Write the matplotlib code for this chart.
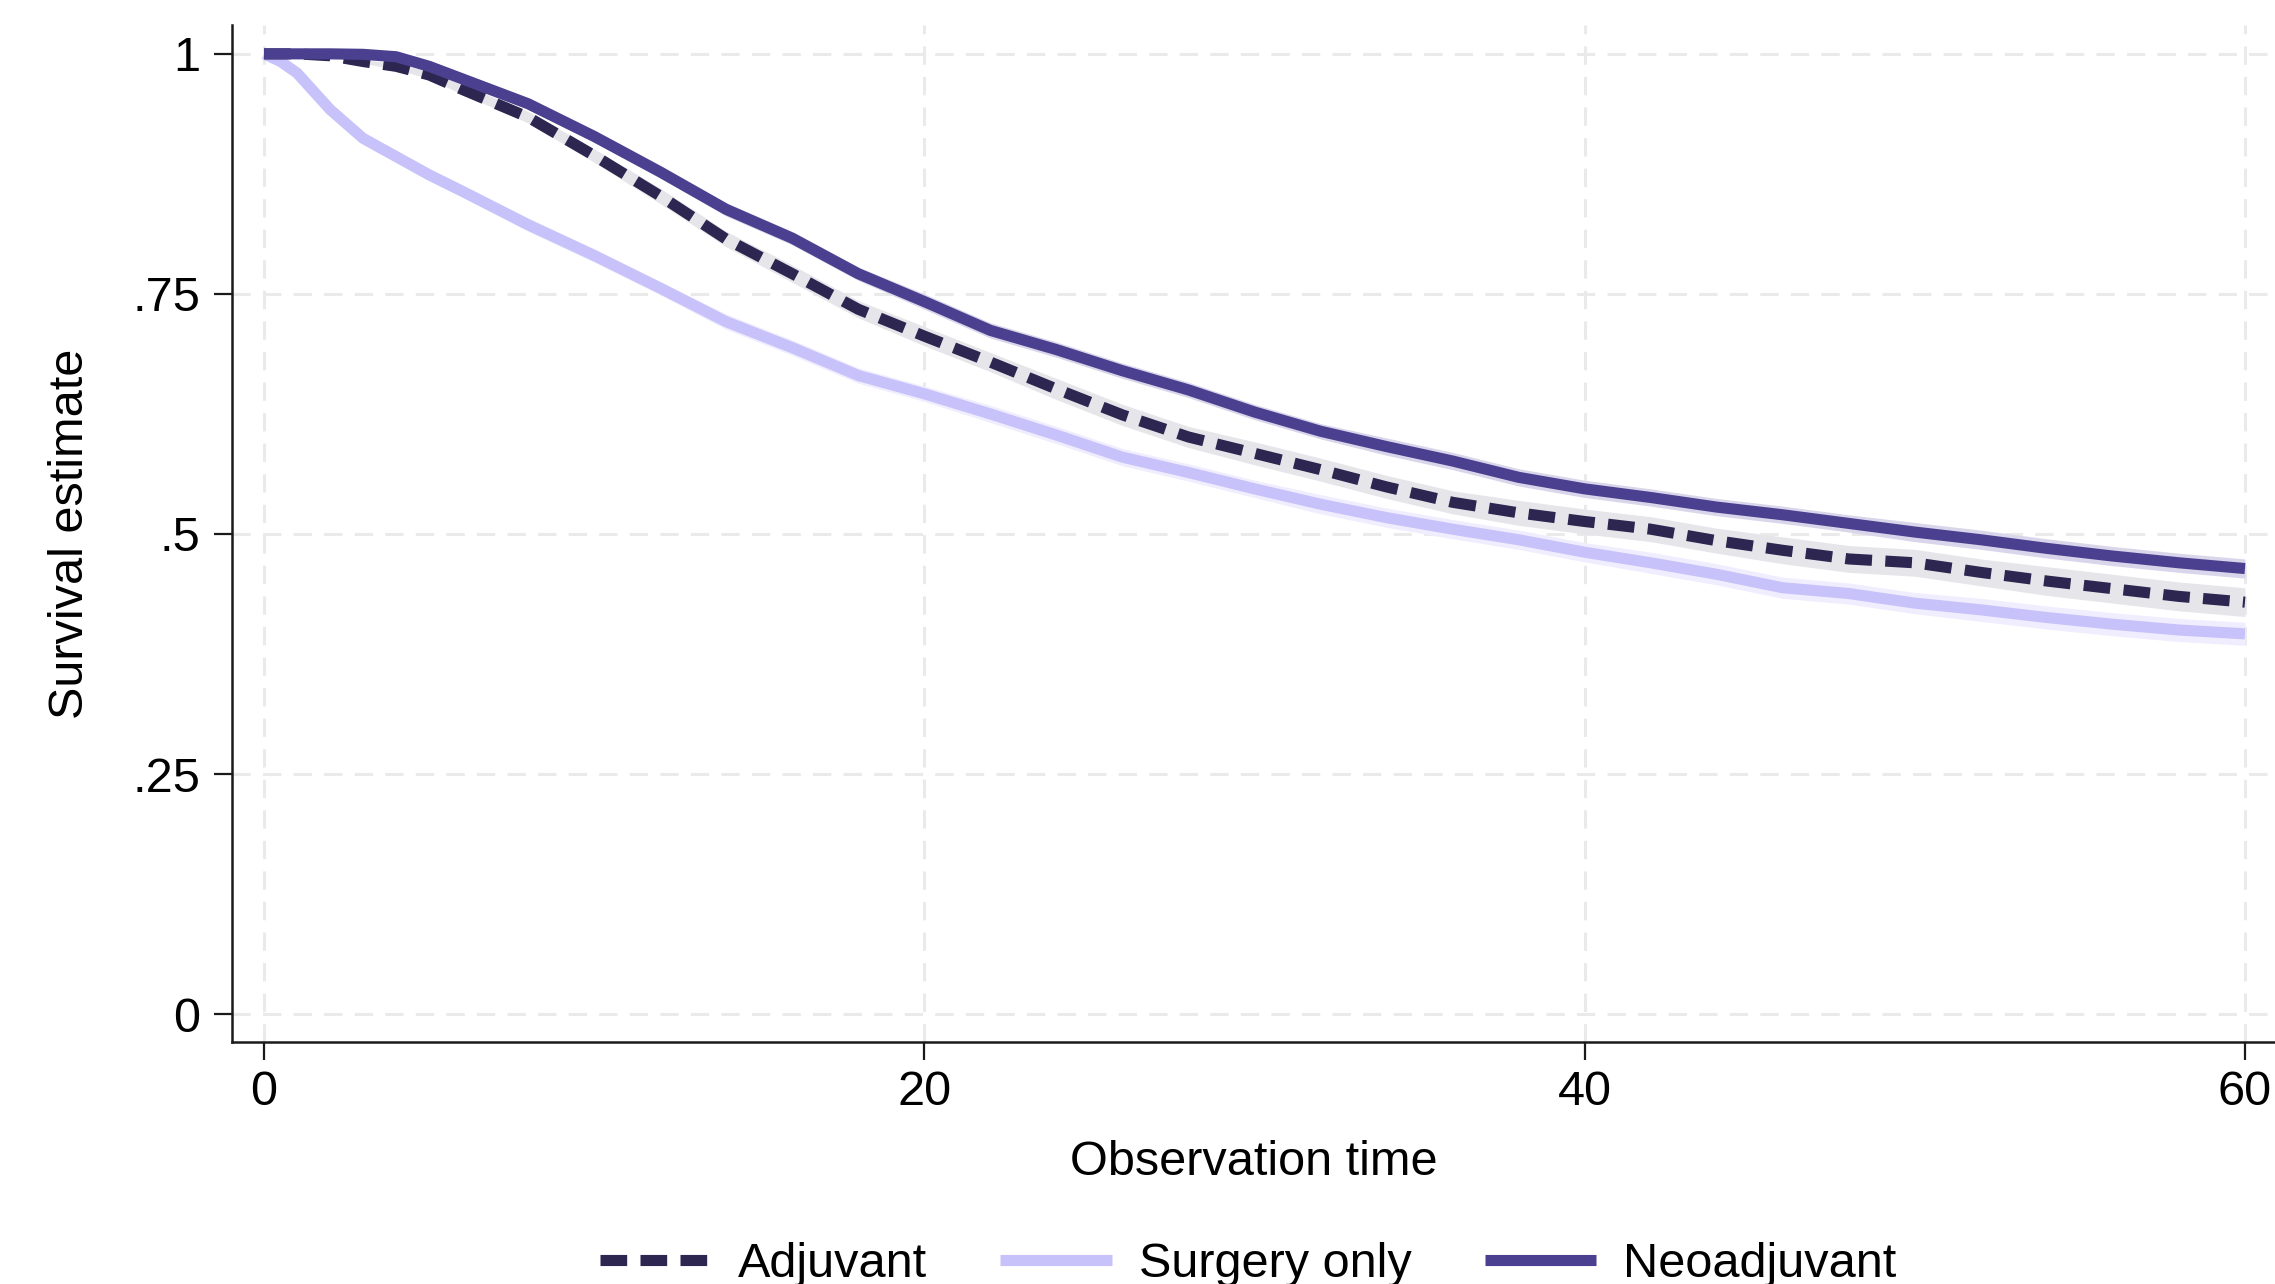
import matplotlib
matplotlib.use("Agg")
import matplotlib.pyplot as plt
import numpy as np

plt.rcParams['font.family'] = ['Liberation Sans', 'DejaVu Sans']

# ---- data ----
time = [0, 0.5, 1, 2, 3, 4, 5, 6, 8, 10, 12, 14, 16, 18, 20, 22, 24, 26, 28, 30,
        32, 34, 36, 38, 40, 42, 44, 46, 48, 50, 52, 54, 56, 58, 60]

adjuvant = [1.0, 1.0, 1.0, 0.998, 0.992, 0.987, 0.978, 0.963, 0.934, 0.894, 0.852,
            0.807, 0.771, 0.734, 0.706, 0.679, 0.651, 0.624, 0.601, 0.584, 0.567,
            0.549, 0.533, 0.522, 0.513, 0.505, 0.493, 0.483, 0.474, 0.470, 0.460,
            0.451, 0.443, 0.435, 0.429]
surgery_only = [1.0, 0.992, 0.980, 0.942, 0.912, 0.893, 0.874, 0.857, 0.822, 0.790,
                0.756, 0.721, 0.694, 0.665, 0.646, 0.625, 0.603, 0.580, 0.564, 0.547,
                0.531, 0.517, 0.505, 0.494, 0.481, 0.470, 0.458, 0.444, 0.438, 0.428,
                0.421, 0.413, 0.406, 0.400, 0.396]
neoadjuvant = [1.0, 1.0, 1.0, 1.0, 0.9995, 0.997, 0.987, 0.974, 0.948, 0.914, 0.877,
               0.838, 0.808, 0.771, 0.742, 0.712, 0.692, 0.670, 0.650, 0.627, 0.607,
               0.591, 0.576, 0.559, 0.547, 0.538, 0.528, 0.520, 0.511, 0.502, 0.494,
               0.485, 0.477, 0.470, 0.464]

# confidence-band half widths
adjuvant_ci = [0, 0, 0, 0.001, 0.002, 0.003, 0.004, 0.005, 0.006, 0.007, 0.008,
               0.008, 0.009, 0.009, 0.010, 0.010, 0.011, 0.011, 0.011, 0.012, 0.012,
               0.012, 0.012, 0.013, 0.013, 0.013, 0.013, 0.014, 0.014, 0.014, 0.014,
               0.015, 0.015, 0.015, 0.015]
surgery_ci = [0, 0.002, 0.003, 0.004, 0.005, 0.005, 0.006, 0.006, 0.007, 0.007, 0.007,
              0.008, 0.008, 0.008, 0.008, 0.009, 0.009, 0.009, 0.009, 0.009, 0.010,
              0.010, 0.010, 0.010, 0.010, 0.011, 0.011, 0.011, 0.011, 0.011, 0.012,
              0.012, 0.012, 0.012, 0.012]
neo_ci = [0, 0, 0, 0, 0.001, 0.002, 0.003, 0.004, 0.005, 0.006, 0.006, 0.007, 0.007,
          0.007, 0.008, 0.008, 0.008, 0.008, 0.008, 0.008, 0.008, 0.009, 0.009, 0.009,
          0.009, 0.009, 0.009, 0.009, 0.009, 0.010, 0.010, 0.010, 0.010, 0.010, 0.010]

labels = ["Adjuvant", "Surgery only", "Neoadjuvant"]
x_ticks = [0, 20, 40, 60]
y_ticks = [0, 0.25, 0.5, 0.75, 1]
y_ticklabels = ["0", ".25", ".5", ".75", "1"]

# ---- styling ----
c_adj = "#2C2650"
c_surg = "#C7C2FA"
c_neo = "#4B3F8F"
FS = 35

fig = plt.figure(figsize=(22.75, 12.84), dpi=100)
ax = fig.add_axes([0.102, 0.1885, 0.898, 0.792])

t = np.array(time)
series = [
    (np.array(surgery_only), np.array(surgery_ci), c_surg, "#EFEDFE", labels[1], dict(linestyle='-')),
    (np.array(adjuvant), np.array(adjuvant_ci), c_adj, "#E6E6EA", labels[0], dict(linestyle=(0, (2.4, 1.2)))),
    (np.array(neoadjuvant), np.array(neo_ci), c_neo, "#D9D5EA", labels[2], dict(linestyle='-')),
]
handles = {}
for y, ci, col, bandcol, lab, ls in series:
    ax.fill_between(t, y - ci, y + ci, color=bandcol, lw=0, zorder=2)
for y, ci, col, bandcol, lab, ls in series:
    ln, = ax.plot(t, y, color=col, lw=8, solid_capstyle='butt', dash_capstyle='butt',
                  solid_joinstyle='round', zorder=3, label=lab, **ls)
    handles[lab] = ln

ax.set_xlim(-0.97, 60.91)
ax.set_ylim(-0.029, 1.030)
ax.set_xticks(x_ticks)
ax.set_yticks(y_ticks)
ax.set_yticklabels(y_ticklabels)

ax.grid(True, color="#EAEAEA", lw=2.2, linestyle=(0, (6, 4)), zorder=0)
ax.set_axisbelow(True)
for s in ["top", "right"]:
    ax.spines[s].set_visible(False)
for s in ["left", "bottom"]:
    ax.spines[s].set_linewidth(1.8)
    ax.spines[s].set_color("#1a1a1a")
ax.tick_params(axis='both', direction='out', length=13, width=1.6, colors="#1a1a1a",
               labelsize=FS, pad=7, labelcolor='black')
ax.tick_params(axis='y', pad=10)

ax.set_xlabel("Observation time", fontsize=FS, labelpad=18)
ax.set_ylabel("Survival estimate", fontsize=FS, labelpad=28)

fig.legend([handles[l] for l in labels], labels, loc='center', ncol=3,
           bbox_to_anchor=(0.5486, 0.0150), frameon=False, fontsize=FS,
           handlelength=2.3, handletextpad=0.55, columnspacing=1.5)

fig.savefig("out.png", dpi=100, facecolor="white")
